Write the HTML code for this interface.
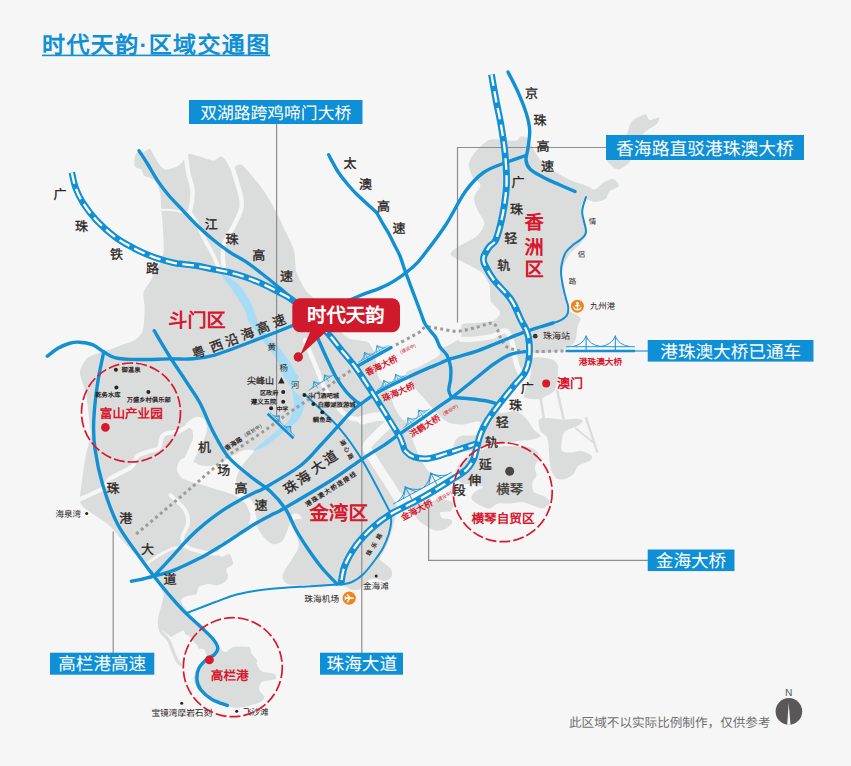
<!DOCTYPE html>
<html lang="zh-CN">
<head>
<meta charset="utf-8">
<title>时代天韵·区域交通图</title>
<style>
html,body{margin:0;padding:0;background:#f6f6f6;}
body{width:851px;height:766px;overflow:hidden;font-family:"Liberation Sans",sans-serif;}
svg{display:block;position:absolute;left:0;top:0;}
text{font-family:"Liberation Sans",sans-serif;text-rendering:geometricPrecision;}
.rd{fill:none;stroke:#1190d4;stroke-width:3.4;stroke-linecap:round;stroke-linejoin:round;}
.rd2{fill:none;stroke:#1190d4;stroke-width:2;stroke-linecap:round;stroke-linejoin:round;}
.rl{fill:none;stroke:#1190d4;stroke-width:7;stroke-linecap:butt;stroke-linejoin:round;}
.rw{fill:none;stroke:#fff;stroke-width:2.3;stroke-dasharray:11.5 5.5;stroke-linejoin:round;}
.dot{fill:none;stroke:#9b9b9b;stroke-width:3;stroke-dasharray:3 3.2;}
.ld{fill:none;stroke:#8e8e8e;stroke-width:1.2;}
.land{fill:#dbdcdc;}
.bg{fill:#f6f6f6;}
.riv{fill:#a6dcf6;}
.box{fill:#0f8fd6;}
.bt{fill:#fff;font-size:17.6px;}
.k{fill:#2a2422;font-size:13px;text-anchor:middle;stroke:#2a2422;stroke-width:0.32px;}
.s{fill:#2a2422;font-size:8.5px;}
.t{fill:#2a2422;font-size:7px;font-weight:bold;}
.r{fill:#d7182d;font-weight:bold;}
.circ{fill:none;stroke:#d7182d;stroke-width:1.7;stroke-dasharray:11 3;}
</style>
</head>
<body>
<svg width="851" height="766" viewBox="0 0 851 766">
<rect width="851" height="766" fill="#f6f6f6"/>
<g id="land">
<path class="land" d="M149.7 149.0C151.5 149.8 154.0 155.9 155.4 158.1C156.8 160.3 158.0 163.1 159.5 164.7C161.0 166.3 163.5 169.4 166.1 169.6C168.7 169.8 175.1 167.6 177.6 166.3C180.1 165.0 182.1 162.2 183.4 160.6C184.7 159.0 185.6 155.7 186.7 154.8C187.8 153.9 188.6 153.6 190.8 154.0C193.0 154.4 199.0 156.4 202.3 157.3C205.6 158.2 211.2 160.7 213.8 160.6C216.4 160.5 218.8 156.5 220.4 156.4C222.0 156.3 223.9 158.0 225.3 159.7C226.7 161.4 229.1 166.8 230.3 168.0C231.5 169.2 232.7 168.4 233.6 168.0C234.5 167.6 235.5 165.7 236.9 165.5C238.3 165.3 240.0 163.2 243.4 166.3C246.8 169.4 256.8 181.4 261.0 187.0C265.2 192.6 269.4 199.8 272.8 205.8C276.2 211.8 281.5 222.9 284.5 229.3C287.5 235.7 292.3 244.5 294.0 250.5C295.7 256.5 294.6 265.9 296.3 271.6C298.0 277.3 302.9 286.3 305.7 290.4C308.5 294.5 312.5 296.1 316.0 300.0C319.5 303.9 325.7 312.7 330.0 318.0C334.3 323.3 342.0 333.8 346.4 337.0C350.8 340.2 357.3 339.7 360.5 340.5C363.7 341.3 366.6 341.1 368.5 342.7C370.4 344.3 372.8 348.8 374.0 352.0C375.2 355.2 376.4 361.8 377.0 365.3C377.6 368.8 376.7 372.9 378.3 376.5C379.9 380.1 385.8 386.0 388.2 390.6C390.6 395.2 393.3 404.9 395.3 409.0C397.3 413.1 400.5 417.2 402.0 419.0C403.5 420.8 404.8 419.7 405.8 421.3C406.8 422.9 408.1 427.4 409.0 430.0C409.9 432.6 411.0 435.6 412.4 439.3C413.8 443.0 417.1 451.8 419.0 455.8C420.9 459.8 423.6 464.2 425.5 467.3C427.4 470.4 431.6 474.8 432.0 477.2C432.4 479.6 429.4 482.4 428.0 484.0C426.6 485.6 425.5 487.1 422.3 488.7C419.1 490.3 409.1 494.8 405.8 495.3C402.5 495.8 400.9 491.8 399.2 492.0C397.5 492.2 394.3 494.7 394.0 497.0C393.7 499.3 396.9 505.0 397.0 508.0C397.1 511.0 395.7 514.9 395.0 518.0C394.3 521.1 393.1 526.1 392.0 530.0C390.9 533.9 388.7 541.0 387.0 545.0C385.3 549.0 380.4 555.4 380.0 558.0C379.6 560.6 382.4 561.4 384.0 563.0C385.6 564.6 389.9 567.0 391.0 569.0C392.1 571.0 392.4 575.3 391.5 577.0C390.6 578.7 387.4 580.8 385.0 581.0C382.6 581.2 377.6 578.5 375.0 578.5C372.4 578.5 369.0 579.6 367.0 581.0C365.0 582.4 363.1 587.2 361.0 588.5C358.9 589.8 354.3 590.3 352.0 590.0C349.7 589.7 347.3 587.1 345.0 586.5C342.7 585.9 340.3 585.8 336.0 585.8C331.7 585.8 318.9 586.7 315.0 586.5C311.1 586.3 310.9 584.7 308.6 584.5C306.3 584.3 301.8 585.5 298.7 585.4C295.6 585.3 289.5 585.0 287.2 583.8C284.9 582.6 282.5 579.3 282.3 577.2C282.1 575.1 284.1 571.6 285.5 569.0C286.9 566.4 290.2 562.4 292.1 559.1C294.0 555.8 298.2 549.7 298.7 545.9C299.2 542.1 296.3 536.1 295.4 532.8C294.5 529.5 292.1 524.8 292.1 522.9C292.1 521.0 294.0 520.3 295.4 519.6C296.8 518.9 301.8 518.9 302.0 518.0C302.2 517.1 298.4 514.0 297.0 513.5C295.6 513.0 293.0 513.6 292.1 514.7C291.2 515.8 291.2 519.0 290.5 521.3C289.8 523.6 288.4 528.3 287.2 531.1C286.0 533.9 284.2 539.1 282.3 541.0C280.4 542.9 276.4 544.5 274.0 544.3C271.6 544.1 268.1 541.8 265.8 539.4C263.5 537.0 259.0 531.3 257.6 527.8C256.2 524.3 256.8 517.0 255.9 514.7C255.0 512.4 251.9 510.8 251.0 512.0C250.1 513.2 250.6 519.9 249.4 522.9C248.2 525.9 245.9 530.7 242.8 532.8C239.7 534.9 230.8 536.1 228.0 537.7C225.2 539.3 224.4 542.3 223.0 544.3C221.6 546.3 218.1 550.2 218.0 552.0C217.9 553.8 220.3 556.7 222.0 557.0C223.7 557.3 228.0 553.2 229.6 554.2C231.2 555.2 233.4 561.9 232.9 564.0C232.4 566.1 227.0 567.3 226.3 569.0C225.6 570.7 228.1 574.2 228.0 576.0C227.9 577.8 227.0 580.2 225.5 581.5C224.0 582.8 219.8 585.0 217.4 585.4C215.0 585.8 211.6 583.8 209.0 584.0C206.4 584.2 200.9 585.4 199.1 586.8C197.3 588.2 198.0 592.6 196.3 593.9C194.6 595.2 189.2 595.1 187.0 596.0C184.8 596.9 180.9 598.4 181.0 600.5C181.1 602.6 184.1 606.9 187.5 611.0C190.9 615.1 200.4 624.6 204.5 629.0C208.6 633.4 213.9 638.8 216.0 641.5C218.1 644.2 218.1 646.5 219.5 648.0C220.9 649.5 223.7 652.1 225.7 652.0C227.7 651.9 230.1 647.7 233.4 647.0C236.7 646.3 246.3 646.1 248.9 647.0C251.5 647.9 250.3 651.5 251.5 653.4C252.7 655.3 256.3 658.5 257.0 660.0C257.7 661.5 256.0 662.4 256.7 664.0C257.4 665.6 259.3 670.1 261.9 671.5C264.5 672.9 273.0 672.9 274.8 674.0C276.6 675.1 276.6 678.2 274.8 679.3C273.0 680.4 264.1 680.4 261.9 681.9C259.7 683.4 258.9 687.4 259.3 689.6C259.7 691.8 264.4 695.6 264.4 697.4C264.4 699.2 261.9 701.2 259.3 702.5C256.7 703.8 250.0 705.7 246.3 706.4C242.6 707.1 237.1 708.3 233.4 707.7C229.7 707.1 224.2 704.0 220.5 702.5C216.8 701.0 210.7 699.2 207.6 697.4C204.5 695.6 200.5 692.2 198.5 689.6C196.5 687.0 193.9 681.9 193.3 679.3C192.7 676.7 196.4 674.1 194.6 671.5C192.8 668.9 182.8 663.8 180.4 661.2C178.0 658.6 179.1 656.7 177.8 653.4C176.5 650.1 174.0 641.6 171.4 637.9C168.8 634.2 161.6 630.6 159.7 627.6C157.8 624.6 157.8 621.6 158.4 617.2C159.0 612.8 163.2 600.5 163.6 596.5C164.0 592.5 162.4 592.3 161.0 589.2C159.6 586.1 155.7 578.4 154.0 575.0C152.3 571.6 150.6 567.7 149.3 565.7C148.0 563.7 146.3 562.3 144.6 561.0C142.9 559.7 139.9 558.3 137.6 556.3C135.3 554.3 131.6 550.7 128.2 547.0C124.8 543.3 117.0 533.9 114.0 530.5C111.0 527.1 110.0 525.8 107.0 523.4C104.0 521.0 96.3 516.3 92.9 514.0C89.5 511.7 85.3 509.0 83.5 507.0C81.7 505.0 80.2 504.0 80.0 500.0C79.8 496.0 81.5 485.2 82.3 478.8C83.1 472.4 84.7 461.5 85.9 455.3C87.1 449.1 90.0 440.4 90.5 435.2C91.0 430.0 89.6 422.9 89.2 418.7C88.8 414.5 88.1 409.3 87.6 405.5C87.1 401.7 86.6 395.2 86.0 392.4C85.4 389.6 84.3 388.4 83.5 385.8C82.7 383.2 80.6 376.9 80.2 374.3C79.8 371.7 79.9 370.1 81.0 367.7C82.1 365.3 85.0 359.9 87.6 357.8C90.2 355.7 95.5 354.2 99.0 352.9C102.5 351.6 109.0 350.0 112.3 348.8C115.6 347.6 118.8 346.0 122.1 344.7C125.4 343.4 132.3 341.8 135.3 339.7C138.3 337.6 141.7 334.5 143.0 330.0C144.3 325.5 144.5 313.5 144.6 308.2C144.7 302.9 142.7 296.7 143.5 292.8C144.3 288.9 148.8 284.0 150.5 281.0C152.2 278.0 153.4 275.6 155.3 271.6C157.2 267.6 162.5 260.2 163.5 252.8C164.5 245.4 162.6 226.4 162.3 220.0C162.0 213.6 161.4 211.9 161.1 208.2C160.8 204.5 161.1 197.9 160.4 194.3C159.7 190.7 157.8 185.2 156.3 182.8C154.8 180.4 151.5 178.9 149.7 177.8C147.9 176.7 145.1 176.6 143.9 175.4C142.7 174.2 142.7 170.9 141.4 169.6C140.1 168.3 135.8 168.2 134.9 166.3C134.0 164.4 134.3 158.6 134.9 156.4C135.5 154.2 137.8 151.3 139.0 150.7C140.2 150.1 141.6 152.5 143.1 152.3C144.6 152.1 147.9 148.2 149.7 149.0Z"/>
<path class="land" d="M484.3 143.3C486.9 141.3 487.6 139.8 492.0 139.4C496.4 139.0 511.2 141.1 515.3 140.7C519.4 140.3 518.8 137.2 520.5 136.8C522.2 136.4 525.2 136.4 527.0 138.0C528.8 139.6 531.0 144.7 533.0 148.0C535.0 151.3 538.1 157.9 541.0 161.0C543.9 164.1 548.9 167.3 553.0 170.0C557.1 172.7 565.1 177.7 570.0 180.0C574.9 182.3 583.5 184.6 587.0 186.0C590.5 187.4 592.4 190.0 594.8 189.5C597.2 189.0 601.8 183.6 604.0 182.2C606.2 180.8 608.4 179.9 610.0 179.5C611.6 179.1 613.8 178.8 615.0 179.7C616.2 180.6 619.4 184.2 618.6 185.9C617.8 187.6 611.2 189.6 609.4 191.4C607.6 193.2 607.9 197.2 605.8 198.7C603.7 200.2 597.8 201.9 594.8 202.0C591.8 202.1 586.9 198.6 585.0 199.5C583.1 200.4 581.2 204.6 581.2 208.0C581.2 211.4 584.3 219.7 585.0 223.4C585.7 227.1 587.1 230.9 586.4 233.8C585.7 236.7 582.4 241.1 580.0 244.0C577.6 246.9 572.0 251.1 569.6 254.4C567.2 257.7 564.1 263.0 563.0 267.4C561.9 271.8 561.4 280.7 561.8 285.5C562.2 290.3 564.7 297.5 565.7 301.0C566.7 304.5 566.6 307.6 568.7 310.0C570.8 312.4 579.0 315.7 580.3 318.0C581.6 320.3 578.5 322.6 577.7 325.9C576.9 329.2 576.8 338.1 575.0 341.4C573.2 344.7 568.4 347.4 564.8 349.0C561.2 350.6 554.4 351.9 550.0 352.5C545.6 353.1 536.9 353.1 534.0 353.2C531.1 353.3 530.5 351.9 530.0 353.0C529.5 354.1 530.9 358.1 530.5 361.0C530.1 363.9 529.1 369.1 527.0 373.0C524.9 376.9 519.4 383.6 516.0 388.0C512.6 392.4 505.4 400.4 503.0 404.0C500.6 407.6 497.6 411.9 499.5 413.0C501.4 414.1 512.2 410.7 516.0 411.4C519.8 412.1 523.2 415.4 525.8 418.0C528.4 420.6 531.9 426.9 534.0 429.5C536.1 432.1 540.8 434.6 540.6 436.0C540.4 437.4 535.7 438.7 532.4 439.4C529.1 440.1 521.8 440.3 517.6 441.0C513.4 441.7 506.7 443.5 502.8 444.0C498.9 444.5 493.3 443.9 490.0 444.3C486.7 444.7 482.4 446.0 480.0 447.0C477.6 448.0 476.0 450.4 473.0 451.0C470.0 451.6 461.8 451.7 459.0 451.4C456.2 451.1 454.2 450.0 453.6 448.6C453.0 447.2 454.0 443.3 455.0 441.5C456.0 439.7 457.4 437.0 460.6 436.0C463.8 435.0 474.8 436.4 477.6 434.5C480.4 432.6 480.8 424.8 480.4 423.0C480.0 421.2 477.5 421.6 475.0 421.8C472.5 422.0 466.4 424.4 463.0 424.6C459.6 424.8 453.7 423.9 451.0 423.2C448.3 422.5 446.5 421.7 444.0 419.7C441.5 417.7 436.2 412.1 433.3 409.0C430.4 405.9 426.3 400.9 423.5 397.7C420.7 394.5 415.5 388.9 413.6 386.4C411.7 383.9 411.0 382.0 410.0 380.0C409.0 378.0 405.2 374.2 406.5 372.3C407.8 370.4 414.6 369.1 419.2 366.7C423.8 364.3 436.0 357.9 439.0 355.4C442.0 352.9 438.2 351.1 440.0 349.4C441.8 347.7 448.8 345.3 451.8 343.5C454.8 341.7 459.5 339.7 461.0 337.0C462.5 334.3 460.0 326.7 462.0 324.7C464.0 322.7 470.8 323.5 475.0 323.0C479.2 322.5 488.6 321.9 491.7 321.2C494.8 320.5 495.8 319.4 497.0 318.0C498.2 316.6 500.7 313.7 499.8 311.3C498.9 308.9 492.3 304.7 490.8 301.0C489.3 297.3 490.8 289.6 489.5 285.5C488.2 281.4 485.4 275.8 481.7 272.5C478.0 269.2 468.0 264.8 463.6 262.2C459.2 259.6 451.4 256.6 450.7 254.4C450.0 252.2 454.7 249.3 458.4 246.7C462.1 244.1 472.8 239.6 476.5 236.3C480.2 233.0 484.1 227.1 484.3 223.4C484.5 219.7 479.3 214.2 477.8 210.5C476.3 206.8 473.6 201.3 474.0 197.6C474.4 193.9 480.6 187.6 480.4 184.6C480.2 181.6 474.4 179.8 472.7 176.9C471.0 174.0 468.6 167.3 468.8 164.0C469.0 160.7 471.8 156.6 474.0 153.6C476.2 150.6 481.7 145.3 484.3 143.3Z"/>
<path class="land" d="M627.7 136.5C626.1 135.3 628.5 130.1 629.0 128.0C629.5 125.9 630.1 123.5 631.4 121.9C632.7 120.3 635.9 118.0 638.0 117.0C640.1 116.0 644.3 114.2 646.0 114.6C647.7 115.0 647.8 119.7 649.6 120.1C651.4 120.5 657.7 117.0 658.8 117.5C659.9 118.0 658.8 121.9 657.0 123.8C655.2 125.7 648.4 129.2 646.0 131.0C643.6 132.8 643.1 135.7 640.5 136.5C637.9 137.3 629.3 137.7 627.7 136.5Z"/>
<path class="land" d="M607.6 158.5C610.2 157.5 626.6 157.7 629.5 158.5C632.4 159.3 629.3 162.4 627.7 164.0C626.1 165.6 620.9 169.1 618.6 169.4C616.3 169.7 612.9 167.4 611.3 165.8C609.7 164.2 605.0 159.5 607.6 158.5Z"/>
<path class="land" d="M489.6 447.6C494.4 446.7 503.8 446.0 509.4 446.0C515.0 446.0 525.0 446.8 529.0 447.6C533.0 448.4 536.0 450.1 537.3 451.7C538.6 453.3 538.5 456.9 538.1 459.1C537.7 461.3 535.0 465.0 534.8 467.3C534.6 469.6 536.8 473.4 536.5 475.5C536.2 477.6 532.8 479.7 532.4 482.1C532.0 484.5 532.1 489.9 534.0 492.0C535.9 494.1 543.3 495.4 545.5 497.0C547.7 498.6 550.2 501.9 549.7 503.5C549.2 505.1 544.8 508.2 542.3 508.4C539.8 508.6 535.2 506.1 532.4 505.2C529.6 504.3 525.8 502.1 522.5 501.9C519.2 501.7 512.9 503.3 509.4 503.5C505.9 503.7 500.6 502.8 497.8 503.5C495.0 504.2 492.2 508.2 489.6 508.4C487.0 508.6 482.3 506.6 479.7 505.2C477.1 503.8 472.2 500.5 471.5 498.6C470.8 496.7 473.2 493.7 474.8 492.0C476.4 490.3 483.1 488.0 483.0 487.0C482.9 486.0 477.0 485.6 474.0 485.0C471.0 484.4 464.7 484.3 462.0 483.0C459.3 481.7 455.6 478.4 455.0 476.0C454.4 473.6 456.4 468.6 458.0 466.0C459.6 463.4 463.4 460.0 466.0 458.0C468.6 456.0 472.6 453.5 476.0 452.0C479.4 450.5 484.8 448.5 489.6 447.6Z"/>
<path class="land" d="M532.9 358.0C535.5 356.3 545.8 357.9 549.3 358.8C552.8 359.7 556.4 361.6 557.6 364.5C558.8 367.4 558.1 375.5 557.6 379.3C557.1 383.1 556.0 388.5 554.3 390.9C552.6 393.3 547.9 394.6 546.0 395.8C544.1 397.0 542.9 398.5 541.0 399.0C539.1 399.5 535.3 399.2 533.0 399.0C530.7 398.8 525.9 398.3 524.7 397.4C523.5 396.5 524.0 395.1 524.7 392.5C525.4 389.9 528.7 382.4 529.6 379.3C530.5 376.2 530.8 374.0 531.3 371.0C531.8 368.0 530.3 359.7 532.9 358.0Z"/>
<path class="land" d="M539.0 419.6C540.2 417.7 545.5 418.0 548.8 418.0C552.1 418.0 558.2 419.5 562.0 419.6C565.8 419.7 572.3 418.7 575.2 418.8C578.1 418.9 582.1 419.5 582.6 420.4C583.1 421.3 580.9 423.9 578.4 425.4C575.9 426.9 567.6 429.1 565.3 431.1C563.0 433.1 562.5 436.6 562.0 439.4C561.5 442.2 560.6 449.0 562.0 450.9C563.4 452.8 569.1 452.5 571.9 452.5C574.7 452.5 578.9 450.4 581.7 450.9C584.5 451.4 590.4 454.4 591.6 455.8C592.8 457.2 591.9 459.3 590.0 460.7C588.1 462.1 580.8 463.8 578.4 465.7C576.0 467.6 575.4 472.0 573.5 473.9C571.6 475.8 567.7 478.1 565.3 478.8C562.9 479.5 558.9 479.7 557.0 478.8C555.1 477.9 553.1 474.6 552.1 472.3C551.1 470.0 550.2 465.7 549.7 462.4C549.2 459.1 549.2 452.7 548.8 449.2C548.4 445.7 548.4 440.3 547.2 437.7C546.0 435.1 541.8 433.7 540.6 431.1C539.4 428.5 537.8 421.5 539.0 419.6Z"/>
<path d="M540.6 398L543.9 419M557 390L563.6 419" stroke="#dbdcdc" stroke-width="2.6" fill="none"/>
<path d="M585.8 417.1L597.4 452.5" stroke="#dbdcdc" stroke-width="2.4" fill="none"/><path d="M575.2 427.8L593.2 442.6" stroke="#dbdcdc" stroke-width="1.8" fill="none"/>
<path class="land" d="M413.8 503.9C416.0 502.7 424.4 503.0 428.0 502.4C431.6 501.8 435.6 499.6 439.2 499.6C442.8 499.6 451.7 500.8 453.3 502.4C454.9 504.0 452.3 509.5 450.5 510.9C448.7 512.3 441.8 511.3 440.6 512.3C439.4 513.3 440.6 517.0 442.0 518.0C443.4 519.0 449.1 518.6 450.5 519.4C451.9 520.2 452.8 522.2 452.0 523.6C451.2 525.0 447.1 528.2 444.9 529.2C442.7 530.2 438.6 530.8 436.4 530.6C434.2 530.4 431.4 528.8 429.4 527.8C427.4 526.8 424.1 525.0 422.3 523.6C420.5 522.2 418.1 519.8 416.7 518.0C415.3 516.2 412.8 512.9 412.4 510.9C412.0 508.9 411.6 505.1 413.8 503.9Z"/>
</g>
<g id="river">
<path d="M185.9 155.0C186.3 158.0 187.2 167.2 188.3 172.9C189.4 178.6 191.8 184.4 192.4 189.3C193.0 194.2 192.3 198.6 191.8 202.5C191.3 206.4 189.9 211.2 189.5 213.0" fill="none" stroke="#f6f6f6" stroke-width="4.4" stroke-linecap="round" stroke-linejoin="round"/>
<path d="M189.5 212.0C190.4 213.3 192.3 215.4 194.8 220.0C197.3 224.6 201.7 233.8 204.7 239.5C207.7 245.2 210.7 249.9 212.9 254.3C215.1 258.7 216.5 262.9 217.8 265.8C219.2 268.8 220.5 271.0 221.0 272.0" fill="none" stroke="#f6f6f6" stroke-width="3.8" stroke-linecap="round" stroke-linejoin="round"/>
<path d="M232.0 166.5C233.1 170.0 236.9 182.1 238.5 187.7C240.1 193.3 241.1 196.3 241.5 200.0C241.9 203.7 242.1 205.8 240.9 209.9C239.7 214.0 237.1 219.2 234.3 224.7C231.6 230.2 226.3 237.9 224.4 242.8C222.5 247.7 222.9 250.5 222.8 254.3C222.7 258.1 223.4 262.9 223.6 265.8C223.8 268.8 223.9 271.0 224.0 272.0" fill="none" stroke="#f6f6f6" stroke-width="4.4" stroke-linecap="round" stroke-linejoin="round"/>
<path d="M159.5 210.0C161.2 210.0 166.6 209.8 170.0 210.0C173.4 210.2 176.8 211.0 180.0 211.5C183.2 212.0 187.5 212.9 189.0 213.2" fill="none" stroke="#f6f6f6" stroke-width="1.8" stroke-linecap="round" stroke-linejoin="round"/>
<path class="riv" d="M221.0 273.0C221.3 272.7 224.9 274.6 227.0 276.0C229.1 277.4 237.3 282.5 240.0 285.7C242.7 288.9 249.6 300.5 251.6 304.5C253.6 308.5 256.2 318.5 258.0 322.0C259.8 325.5 265.7 333.2 268.0 336.0C270.3 338.8 276.8 344.3 279.0 347.0C281.2 349.7 286.4 357.7 288.0 360.0C289.6 362.3 292.2 366.6 293.0 368.0C293.8 369.4 294.6 371.4 295.2 372.4C295.8 373.4 298.9 375.0 298.8 377.0C298.7 379.0 293.7 387.8 294.0 390.0C294.3 392.2 299.9 395.3 301.1 397.0C302.3 398.7 304.9 402.8 304.6 405.3C304.3 407.8 300.5 416.9 298.8 419.4C297.1 421.9 291.6 425.8 289.4 427.6C287.2 429.4 281.3 433.8 278.8 435.8C276.3 437.8 269.7 443.5 267.0 445.2C264.3 446.9 255.3 450.8 254.1 451.1C252.9 451.4 254.8 449.2 256.5 447.6C258.2 446.0 266.7 439.2 269.4 437.0C272.1 434.8 279.0 429.3 281.1 427.6C283.2 425.9 287.0 423.1 288.2 421.7C289.4 420.3 291.1 416.5 291.7 414.7C292.3 412.9 293.9 407.5 294.0 405.3C294.1 403.1 293.3 396.8 292.9 394.7C292.5 392.6 291.5 388.6 290.5 386.5C289.5 384.4 285.0 378.8 283.5 375.9C282.0 373.0 278.9 363.4 277.0 360.0C275.1 356.6 268.4 348.3 266.0 345.0C263.6 341.7 257.0 332.8 255.0 330.0C253.0 327.2 249.2 322.3 248.0 320.0C246.8 317.7 246.3 312.5 244.6 309.2C242.9 305.9 235.1 293.8 232.8 290.4C230.5 287.0 225.3 280.9 224.0 279.0C222.7 277.1 220.7 273.3 221.0 273.0Z"/>
<path class="bg" d="M179.0 462.0C180.0 460.3 182.1 458.1 184.0 458.0C185.9 457.9 189.7 460.0 192.0 461.0C194.3 462.0 197.4 464.3 200.0 465.0C202.6 465.7 207.1 466.3 210.0 466.0C212.9 465.7 217.4 464.1 220.0 463.0C222.6 461.9 225.7 459.3 228.0 458.0C230.3 456.7 233.6 455.1 236.0 454.0C238.4 452.9 242.4 450.5 245.0 450.0C247.6 449.5 253.3 449.6 254.0 450.5C254.7 451.4 251.4 454.2 250.0 456.0C248.6 457.8 245.6 460.9 244.0 463.0C242.4 465.1 240.1 468.6 239.0 471.0C237.9 473.4 236.0 477.6 236.0 480.0C236.0 482.4 237.6 486.0 239.0 488.0C240.4 490.0 244.1 492.1 246.0 494.0C247.9 495.9 250.6 498.7 252.0 501.0C253.4 503.3 255.7 508.0 256.0 510.0C256.3 512.0 254.9 514.6 254.0 515.0C253.1 515.4 251.1 514.6 250.0 513.0C248.9 511.4 247.7 506.3 246.0 504.0C244.3 501.7 240.6 498.6 238.0 497.0C235.4 495.4 231.3 494.1 228.0 493.0C224.7 491.9 218.6 490.1 215.0 489.0C211.4 487.9 206.3 486.0 203.0 485.0C199.7 484.0 195.0 483.0 192.0 482.0C189.0 481.0 184.1 479.7 182.0 478.0C179.9 476.3 177.4 472.3 177.0 470.0C176.6 467.7 178.0 463.7 179.0 462.0Z"/>
<path d="M80.6 499.0C82.6 498.1 88.9 495.2 92.9 493.3C96.9 491.4 101.7 489.9 104.4 487.6C107.1 485.3 106.5 481.8 109.3 479.3C112.0 476.8 117.1 475.0 120.9 472.8C124.8 470.6 129.7 468.9 132.4 466.2C135.1 463.4 134.6 458.8 137.3 456.3C140.0 453.8 145.2 452.8 148.8 451.4C152.4 450.0 156.5 450.6 158.7 448.1C160.9 445.6 160.6 439.1 162.0 436.6C163.4 434.1 164.2 434.1 166.9 433.3C169.6 432.5 174.9 432.8 178.4 431.6C181.9 430.4 185.1 427.8 188.0 426.0C190.9 424.2 194.7 421.8 196.0 421.0" fill="none" stroke="#f6f6f6" stroke-width="4.2" stroke-linecap="round" stroke-linejoin="round"/>
<path class="bg" d="M186.0 424.0C186.6 422.1 193.4 417.7 196.0 417.0C198.6 416.3 202.4 417.4 204.0 419.0C205.6 420.6 207.0 425.0 207.0 428.0C207.0 431.0 205.3 436.6 204.0 440.0C202.7 443.4 199.7 448.6 198.0 452.0C196.3 455.4 193.7 461.1 192.0 464.0C190.3 466.9 187.4 471.1 186.0 472.0C184.6 472.9 182.3 471.7 182.0 470.0C181.7 468.3 183.0 463.1 184.0 460.0C185.0 456.9 187.7 451.1 189.0 448.0C190.3 444.9 192.6 440.6 193.0 438.0C193.4 435.4 193.0 432.0 192.0 430.0C191.0 428.0 185.4 425.9 186.0 424.0Z"/>
<path d="M170.5 495.2C172.8 497.6 181.7 504.6 184.6 509.3C187.5 514.0 188.4 518.7 188.0 523.4C187.6 528.1 182.4 533.6 182.2 537.5C182.0 541.4 183.9 544.6 187.0 547.0C190.1 549.4 196.8 550.5 201.0 551.6C205.2 552.7 209.0 553.2 212.0 553.5C215.0 553.8 217.8 553.5 219.0 553.5" fill="none" stroke="#f6f6f6" stroke-width="3.8" stroke-linecap="round" stroke-linejoin="round"/>
<path d="M184.4 546.5C182.5 546.8 176.6 547.4 173.0 548.5C169.4 549.6 165.8 551.6 163.0 553.0C160.2 554.4 159.1 555.3 156.5 557.0C153.9 558.7 149.0 562.0 147.5 563.0" fill="none" stroke="#f6f6f6" stroke-width="2.6" stroke-linecap="round" stroke-linejoin="round"/>
<path class="bg" d="M171.0 637.0C172.6 636.1 181.4 630.8 183.0 630.5C184.6 630.2 184.8 633.9 185.5 634.5C186.2 635.1 188.2 635.3 189.0 636.0C189.8 636.7 192.1 640.0 193.0 641.0C193.9 642.0 196.3 644.3 197.0 645.2C197.7 646.1 198.6 648.3 199.4 648.7C200.2 649.1 203.2 648.2 204.0 649.0C204.8 649.8 206.6 654.7 206.5 656.0C206.4 657.3 204.3 659.9 203.5 661.0C202.7 662.1 199.9 664.8 199.0 666.0C198.1 667.2 196.2 671.2 195.0 672.0C193.8 672.8 189.6 673.4 188.0 673.0C186.4 672.6 182.2 669.7 181.0 668.0C179.8 666.3 177.9 660.3 177.0 658.0C176.1 655.7 173.9 649.1 173.0 647.0C172.1 644.9 169.2 640.1 169.0 639.0C168.8 637.9 169.4 637.9 171.0 637.0Z"/>
<path d="M159.5 622.0C159.7 623.5 159.2 627.9 160.8 631.0C162.4 634.1 166.7 637.0 168.8 640.5C170.9 644.0 172.1 649.0 173.5 652.3C174.9 655.6 175.8 658.5 177.0 660.5C178.2 662.5 179.9 663.8 180.5 664.5" fill="none" stroke="#dbdcdc" stroke-width="3.2" stroke-linecap="round" stroke-linejoin="round"/>
<path d="M305.0 340.0C305.6 341.4 306.1 342.9 308.3 348.3C310.5 353.7 315.4 365.5 318.2 372.3C321.0 379.1 321.8 383.1 325.3 389.2C328.8 395.3 335.4 404.3 339.4 409.0C343.4 413.7 345.4 415.6 349.2 417.4C353.0 419.2 359.9 419.6 362.0 420.0" fill="none" stroke="#f6f6f6" stroke-width="4.5" stroke-linecap="round" stroke-linejoin="round"/>
<path d="M362.0 420.0C364.2 419.5 371.0 417.5 375.0 417.0C379.0 416.5 383.8 415.8 386.0 417.0C388.2 418.2 389.0 421.5 388.0 424.0C387.0 426.5 383.0 429.0 380.0 432.0C377.0 435.0 372.2 439.3 370.0 442.0C367.8 444.7 366.2 444.7 367.0 448.0C367.8 451.3 371.5 456.3 375.0 462.0C378.5 467.7 384.2 476.0 388.0 482.0C391.8 488.0 395.3 493.3 398.0 498.0C400.7 502.7 403.0 508.0 404.0 510.0" fill="none" stroke="#f6f6f6" stroke-width="9.0" stroke-linecap="round" stroke-linejoin="round"/>
<path d="M461.0 339.5C463.3 339.4 469.8 339.5 475.0 339.0C480.2 338.5 487.7 337.7 492.0 336.5C496.3 335.3 498.7 332.9 501.0 332.0C503.3 331.1 504.5 330.2 506.0 331.0C507.5 331.8 508.8 334.2 510.0 337.0C511.2 339.8 512.7 344.5 513.5 348.0C514.3 351.5 514.3 354.8 515.0 358.0C515.7 361.2 516.5 364.3 517.5 367.0C518.5 369.7 520.4 372.8 521.0 374.0" fill="none" stroke="#f6f6f6" stroke-width="5.2" stroke-linecap="round" stroke-linejoin="round"/>
</g>
<g id="leaders">
<path class="ld" d="M276.6 124V417"/>
<path class="ld" d="M606 147.5H457.5V322.5"/>
<path class="ld" d="M113.2 531.5V653"/>
<path class="ld" d="M361.8 404V653"/>
<path class="ld" d="M428.6 507.4V560.3H648"/>
</g>
<g id="dotted">
<path class="dot" d="M563.5 351.0C559.6 351.1 546.1 351.4 540.0 351.5C533.9 351.6 530.9 351.8 527.0 351.5C523.1 351.2 519.7 350.8 516.4 350.0C513.1 349.2 509.6 348.9 507.0 347.0C504.4 345.1 502.8 342.1 501.0 338.8C499.2 335.5 497.9 329.6 496.4 327.0C494.8 324.4 495.2 322.9 491.7 323.0C488.2 323.1 481.0 326.2 475.3 327.6C469.6 329.0 463.5 331.0 457.6 331.2C451.7 331.4 445.3 329.5 440.0 328.8C434.7 328.1 429.7 326.3 426.0 327.0C422.3 327.7 423.5 329.8 418.0 333.0C412.5 336.2 397.2 344.2 393.0 346.5"/>
<path class="dot" d="M355.5 367.3L323.9 389.2L291.4 411.1L265.5 430.0L229.3 454.7L180.0 497.4L135.0 535.0"/>
</g>
<g id="roads">
<path class="rd" d="M508.0 72.0C509.7 75.3 515.0 85.2 518.0 92.0C521.0 98.8 524.0 106.2 526.0 112.5C528.0 118.8 529.4 124.1 529.7 130.0C530.0 135.9 528.6 143.0 528.0 148.0C527.4 153.0 525.7 156.5 526.0 160.0C526.3 163.5 527.1 166.1 530.0 169.0C532.9 171.9 538.5 174.8 543.5 177.5C548.5 180.2 554.8 182.7 560.0 185.0C565.2 187.3 572.5 190.4 575.0 191.5"/>
<path class="rd" d="M47.3 356.2C49.1 354.9 54.4 350.4 58.0 348.3C61.6 346.2 65.5 344.5 69.0 343.5C72.5 342.5 75.4 342.0 79.3 342.2C83.2 342.4 88.4 343.1 92.5 344.7C96.6 346.3 100.2 349.8 104.0 352.0C107.8 354.2 110.0 356.6 115.5 357.8C121.0 359.1 127.8 359.3 136.9 359.5C146.0 359.7 161.2 359.0 170.0 358.9C178.8 358.8 182.9 359.5 190.0 359.0C197.1 358.5 202.4 358.5 212.5 355.7C222.6 352.9 237.2 347.0 250.5 342.0C263.8 337.0 279.6 330.9 292.0 325.7C304.4 320.5 314.0 315.9 325.0 311.0C336.0 306.1 347.5 300.9 358.0 296.5C368.5 292.1 378.8 289.4 388.0 284.5C397.2 279.6 406.7 272.4 413.0 267.0C419.3 261.6 420.5 259.1 426.0 252.0C431.5 244.9 439.5 234.5 446.0 224.5C452.5 214.5 458.8 200.7 465.0 192.0C471.2 183.3 476.7 177.4 483.5 172.5C490.3 167.6 498.9 165.3 506.0 162.5C513.1 159.7 522.7 156.7 526.0 155.5"/>
<path class="rd" d="M103.7 352.0C102.7 357.3 99.2 372.4 97.5 384.0C95.8 395.6 94.1 410.7 93.7 421.5C93.3 432.3 93.5 438.6 95.0 449.0C96.5 459.4 98.8 471.5 102.5 484.0C106.2 496.5 111.2 511.8 117.5 524.0C123.8 536.2 133.9 548.7 140.0 557.4C146.1 566.1 149.1 569.9 154.0 576.2C158.9 582.5 164.2 589.1 169.6 595.3C174.9 601.5 180.6 607.9 186.1 613.4C191.6 618.9 198.0 624.2 202.5 628.5C207.0 632.8 210.4 635.8 213.0 639.0C215.6 642.2 217.6 645.3 217.8 648.0C218.0 650.7 215.7 653.2 214.0 655.0C212.3 656.8 210.0 656.3 207.5 658.5C205.0 660.7 200.8 664.4 199.0 668.0C197.2 671.6 196.7 676.3 197.0 680.0C197.3 683.7 198.5 686.8 201.0 690.0C203.5 693.2 207.6 696.9 212.0 699.5C216.4 702.1 224.9 704.5 227.5 705.5"/>
<path class="rd" d="M154.2 330.7C156.8 335.1 164.4 348.2 170.0 357.0C175.6 365.8 182.5 375.8 187.5 383.5C192.5 391.2 195.8 395.0 200.0 403.0C204.2 411.0 208.3 422.6 213.0 431.5C217.7 440.4 221.8 449.0 228.0 456.5C234.2 464.0 243.4 470.7 250.5 476.5C257.6 482.3 264.7 486.1 270.5 491.5C276.3 496.9 281.3 502.8 285.5 509.0C289.7 515.2 291.8 522.3 295.5 529.0C299.2 535.7 303.6 542.5 308.0 549.0C312.4 555.5 317.2 562.2 322.0 568.0C326.8 573.8 334.5 581.3 337.0 584.0"/>
<path class="rd" d="M139.0 150.7C140.3 152.8 143.8 157.9 147.0 163.0C150.2 168.1 154.4 175.8 157.9 181.1C161.4 186.3 164.3 190.1 168.0 194.5C171.7 198.9 175.3 202.4 180.0 207.4C184.7 212.4 190.9 219.3 196.4 224.7C201.9 230.0 207.4 235.0 212.9 239.5C218.4 244.0 223.8 248.1 229.3 251.8C234.8 255.5 240.3 258.0 245.8 261.7C251.3 265.4 256.8 269.8 262.3 274.0C267.8 278.2 273.8 283.1 278.7 287.2C283.6 291.3 288.3 295.2 291.9 298.7C295.4 302.2 297.0 304.1 300.0 308.0C303.0 311.9 307.1 317.0 310.0 322.0C312.9 327.0 314.7 331.8 317.5 337.8C320.3 343.8 323.5 351.5 326.7 358.2C329.9 364.9 333.2 372.4 336.5 378.0C339.8 383.6 343.1 388.1 346.4 392.0C349.7 395.9 353.9 399.5 356.3 401.5C358.7 403.5 360.2 403.4 361.0 403.8"/>
<path class="rd" d="M328.6 154.8C330.2 157.7 335.1 167.2 338.2 172.0C341.3 176.8 343.9 179.8 347.0 183.5C350.1 187.2 352.1 189.7 357.0 194.5C361.9 199.3 373.4 209.6 376.7 212.6"/>
<path class="rd" d="M376.7 212.6C377.7 214.3 380.4 219.4 382.5 223.0C384.6 226.6 387.0 230.3 389.0 234.0C391.0 237.7 392.6 241.2 394.5 245.0C396.4 248.8 398.4 252.0 400.2 256.5C402.0 261.0 402.1 262.8 405.5 272.0C408.9 281.2 417.2 303.2 420.5 312.0C423.8 320.8 423.0 320.3 425.5 324.5C428.0 328.7 433.0 333.2 435.4 337.0C437.8 340.8 438.1 343.9 440.0 347.0C441.9 350.1 445.2 352.0 447.0 355.3C448.8 358.6 450.0 363.1 450.6 367.0C451.2 370.9 450.9 374.9 450.6 378.8C450.3 382.7 448.6 387.4 448.8 390.5C449.0 393.6 451.3 396.4 451.8 397.6"/>
<path class="rd" d="M154.0 576.2C157.2 572.8 167.0 562.2 172.9 555.8C178.8 549.4 183.8 543.2 189.3 537.7C194.8 532.2 200.3 527.4 205.8 522.9C211.3 518.4 216.8 514.3 222.3 510.6C227.8 506.9 233.2 503.8 238.7 500.7C244.2 497.6 251.0 494.4 255.2 492.3C259.4 490.2 256.5 492.6 264.0 488.2C271.5 483.8 290.5 473.2 300.0 466.0C309.5 458.8 313.9 452.2 321.0 444.8C328.1 437.4 337.0 427.3 342.3 421.5C347.6 415.7 349.8 413.0 353.0 410.0C356.2 407.0 357.1 406.6 361.3 403.6C365.5 400.6 370.5 396.4 378.3 392.0C386.1 387.6 399.9 381.1 408.0 377.2C416.1 373.3 421.8 370.8 427.0 368.6C432.2 366.4 435.1 365.4 439.0 363.8C442.9 362.2 444.2 360.9 450.3 358.9C456.4 356.9 467.2 354.5 475.3 351.7C483.4 348.9 491.0 345.4 498.8 342.3C506.6 339.2 515.4 335.4 522.3 332.9C529.2 330.3 534.9 328.6 540.0 327.0C545.1 325.4 550.8 323.7 553.0 323.0"/>
<path class="rd" d="M131.4 581.2C132.8 581.0 136.2 580.5 140.0 579.7C143.8 578.9 148.5 577.7 154.0 576.2C159.5 574.7 167.0 572.8 172.9 570.6C178.8 568.4 183.8 565.8 189.3 563.2C194.8 560.6 200.3 558.0 205.8 555.0C211.3 552.0 216.8 548.5 222.3 545.1C227.8 541.7 233.2 538.0 238.7 534.4C244.2 530.8 249.7 527.0 255.2 523.7C260.7 520.4 267.0 517.2 271.6 514.7C276.2 512.2 273.0 514.8 283.0 509.0C293.0 503.2 318.6 488.2 331.7 480.0C344.8 471.8 352.5 465.5 361.3 459.6C370.1 453.7 378.2 449.0 384.6 444.8C391.0 440.6 392.3 439.1 399.4 434.2C406.5 429.3 420.2 419.9 427.0 415.2C433.8 410.5 435.9 408.7 440.0 405.8C444.1 402.9 445.9 402.1 451.8 397.6C457.7 393.1 468.5 384.3 475.3 378.8C482.1 373.3 487.8 368.4 492.9 364.7C498.0 361.0 501.9 358.4 505.8 356.4C509.7 354.4 512.9 353.7 516.4 352.9C519.9 352.1 525.2 351.7 527.0 351.5"/>
<path class="rd" d="M451.8 397.6C454.7 397.8 463.5 398.1 469.4 398.7C475.3 399.3 482.3 400.1 487.0 401.0C491.7 401.9 495.8 403.5 497.6 404.0"/>
<path class="rd" d="M358.5 365.5C363.9 362.5 385.6 350.6 391.0 347.6"/>
<path class="rd2" d="M586.0 197.0C585.4 199.5 582.2 206.2 582.2 212.0C582.2 217.8 586.4 227.3 586.0 232.0C585.6 236.7 582.1 237.9 580.0 240.0C577.9 242.1 575.8 242.5 573.5 244.5C571.2 246.5 567.9 249.1 566.0 252.0C564.1 254.9 563.0 258.7 562.2 262.0C561.4 265.3 561.0 268.7 561.0 272.0C561.0 275.3 561.7 278.8 562.2 282.0C562.7 285.2 563.3 288.1 564.0 291.0C564.7 293.9 565.5 296.6 566.2 299.4C566.9 302.2 568.2 304.9 568.3 307.6C568.4 310.3 568.1 313.4 566.8 315.5C565.5 317.6 563.0 319.0 560.5 320.3C558.0 321.6 553.4 322.8 552.0 323.3"/>
<path class="rd2" d="M305.8 395.3C311.5 400.9 330.4 417.8 339.9 428.8C349.4 439.8 354.5 447.3 363.0 461.5C371.5 475.7 386.3 505.2 391.0 514.0"/>
<path class="rd2" d="M187.1 612.9C191.7 611.1 206.9 605.2 214.6 602.3C222.3 599.4 227.5 597.3 233.4 595.5C239.3 593.7 244.7 592.7 250.0 591.7C255.3 590.7 259.2 590.2 265.0 589.6C270.8 589.0 277.3 588.4 285.0 587.8C292.7 587.2 303.5 586.7 311.0 586.2C318.5 585.7 325.0 585.3 330.0 585.0C335.0 584.7 339.2 584.6 341.0 584.5"/>
<path class="rd2" d="M391.0 514.5C391.0 516.1 391.4 520.6 391.0 524.0C390.6 527.4 389.8 531.0 388.5 535.0C387.2 539.0 385.2 543.8 383.0 548.0C380.8 552.2 378.2 555.7 375.0 560.0C371.8 564.3 367.3 570.3 363.5 574.0C359.7 577.7 355.8 580.2 352.0 582.0C348.2 583.8 342.8 584.1 341.0 584.5"/>
<path d="M267.6 413.7L293.5 438.2" stroke="#1190d4" stroke-width="2.6" fill="none"/>
</g>
<g id="rail">
<path class="rl" style="stroke-width:6.5" d="M71.8 172.5C71.9 172.9 71.6 172.1 72.3 174.7C73.0 177.3 73.9 183.4 75.7 188.2C77.5 192.9 79.8 197.9 83.2 203.2C86.7 208.5 91.1 214.5 96.4 220.2C101.7 225.8 108.9 232.4 115.2 237.1C121.5 241.8 127.7 245.0 134.0 248.3C140.3 251.6 146.5 254.5 152.8 256.8C159.1 259.1 167.1 261.2 171.6 262.4C176.1 263.6 175.9 263.2 180.0 263.8C184.1 264.4 190.9 264.9 196.4 265.8C201.9 266.7 207.4 268.0 212.9 269.1C218.4 270.2 223.8 271.0 229.3 272.4C234.8 273.8 240.3 275.4 245.8 277.3C251.3 279.2 256.8 281.4 262.3 283.9C267.8 286.4 273.5 289.3 278.7 292.1C283.9 294.9 287.9 296.5 293.5 300.8C299.1 305.1 306.3 312.6 312.0 318.0C317.7 323.4 322.4 327.5 327.5 333.0C332.6 338.5 337.6 345.4 342.3 351.2C347.1 357.0 350.8 360.8 356.0 368.0C361.2 375.2 367.3 384.9 373.5 394.5C379.7 404.1 388.6 418.7 393.0 425.8C397.4 432.9 398.4 434.2 400.0 437.3C401.6 440.4 401.9 442.0 402.8 444.4C403.7 446.8 403.7 449.3 405.6 451.4C407.5 453.5 410.3 455.9 414.1 457.1C417.9 458.3 422.8 459.1 428.2 458.5C433.6 457.9 440.6 455.3 446.5 453.5C452.4 451.7 458.4 449.5 463.5 447.9C468.6 446.3 474.7 444.4 476.9 443.7"/>
<path class="rw" d="M71.8 172.5C71.9 172.9 71.6 172.1 72.3 174.7C73.0 177.3 73.9 183.4 75.7 188.2C77.5 192.9 79.8 197.9 83.2 203.2C86.7 208.5 91.1 214.5 96.4 220.2C101.7 225.8 108.9 232.4 115.2 237.1C121.5 241.8 127.7 245.0 134.0 248.3C140.3 251.6 146.5 254.5 152.8 256.8C159.1 259.1 167.1 261.2 171.6 262.4C176.1 263.6 175.9 263.2 180.0 263.8C184.1 264.4 190.9 264.9 196.4 265.8C201.9 266.7 207.4 268.0 212.9 269.1C218.4 270.2 223.8 271.0 229.3 272.4C234.8 273.8 240.3 275.4 245.8 277.3C251.3 279.2 256.8 281.4 262.3 283.9C267.8 286.4 273.5 289.3 278.7 292.1C283.9 294.9 287.9 296.5 293.5 300.8C299.1 305.1 306.3 312.6 312.0 318.0C317.7 323.4 322.4 327.5 327.5 333.0C332.6 338.5 337.6 345.4 342.3 351.2C347.1 357.0 350.8 360.8 356.0 368.0C361.2 375.2 367.3 384.9 373.5 394.5C379.7 404.1 388.6 418.7 393.0 425.8C397.4 432.9 398.4 434.2 400.0 437.3C401.6 440.4 401.9 442.0 402.8 444.4C403.7 446.8 403.7 449.3 405.6 451.4C407.5 453.5 410.3 455.9 414.1 457.1C417.9 458.3 422.8 459.1 428.2 458.5C433.6 457.9 440.6 455.3 446.5 453.5C452.4 451.7 458.4 449.5 463.5 447.9C468.6 446.3 474.7 444.4 476.9 443.7"/>
<path class="rl" style="stroke-width:6.8" d="M491.5 74.5C492.2 78.8 494.4 91.6 496.0 100.0C497.6 108.4 499.6 116.7 501.0 125.0C502.4 133.3 503.8 141.7 504.7 150.0C505.6 158.3 506.3 168.0 506.5 175.0C506.7 182.0 506.7 185.0 506.0 192.0C505.3 199.0 503.9 209.1 502.2 217.0C500.5 224.9 498.0 234.7 496.0 239.5C494.0 244.3 491.7 243.9 490.0 246.0C488.3 248.1 487.1 250.0 486.0 252.0C484.9 254.0 483.7 255.9 483.5 258.0C483.3 260.1 483.0 260.9 484.7 264.5C486.4 268.1 489.1 273.7 493.5 279.5C497.9 285.3 506.4 292.8 511.0 299.5C515.6 306.2 518.3 314.6 521.0 320.0C523.7 325.4 525.6 327.9 527.0 331.8C528.4 335.7 529.0 338.6 529.3 343.5C529.6 348.4 529.5 356.1 528.7 361.0C527.9 365.9 527.2 368.6 524.6 372.9C522.0 377.2 517.2 381.7 512.9 387.0C508.6 392.3 503.1 399.0 498.8 404.6C494.6 410.2 490.5 415.4 487.4 420.4C484.3 425.4 482.1 430.0 480.4 434.5C478.6 439.0 478.1 443.0 476.9 447.2C475.7 451.4 475.1 456.1 473.3 459.9C471.5 463.7 469.6 466.7 466.3 469.8C463.0 472.9 458.7 475.1 453.6 478.4C448.6 481.7 442.4 485.6 436.0 489.5C429.6 493.4 422.6 497.5 415.0 501.6C407.4 505.7 397.6 509.8 390.5 514.2C383.4 518.6 377.8 522.8 372.2 527.9C366.6 533.0 361.2 538.5 356.6 544.8C352.0 551.1 347.4 559.1 344.8 565.7C342.2 572.3 341.5 581.4 340.9 584.5"/>
<path class="rw" d="M491.5 74.5C492.2 78.8 494.4 91.6 496.0 100.0C497.6 108.4 499.6 116.7 501.0 125.0C502.4 133.3 503.8 141.7 504.7 150.0C505.6 158.3 506.3 168.0 506.5 175.0C506.7 182.0 506.7 185.0 506.0 192.0C505.3 199.0 503.9 209.1 502.2 217.0C500.5 224.9 498.0 234.7 496.0 239.5C494.0 244.3 491.7 243.9 490.0 246.0C488.3 248.1 487.1 250.0 486.0 252.0C484.9 254.0 483.7 255.9 483.5 258.0C483.3 260.1 483.0 260.9 484.7 264.5C486.4 268.1 489.1 273.7 493.5 279.5C497.9 285.3 506.4 292.8 511.0 299.5C515.6 306.2 518.3 314.6 521.0 320.0C523.7 325.4 525.6 327.9 527.0 331.8C528.4 335.7 529.0 338.6 529.3 343.5C529.6 348.4 529.5 356.1 528.7 361.0C527.9 365.9 527.2 368.6 524.6 372.9C522.0 377.2 517.2 381.7 512.9 387.0C508.6 392.3 503.1 399.0 498.8 404.6C494.6 410.2 490.5 415.4 487.4 420.4C484.3 425.4 482.1 430.0 480.4 434.5C478.6 439.0 478.1 443.0 476.9 447.2C475.7 451.4 475.1 456.1 473.3 459.9C471.5 463.7 469.6 466.7 466.3 469.8C463.0 472.9 458.7 475.1 453.6 478.4C448.6 481.7 442.4 485.6 436.0 489.5C429.6 493.4 422.6 497.5 415.0 501.6C407.4 505.7 397.6 509.8 390.5 514.2C383.4 518.6 377.8 522.8 372.2 527.9C366.6 533.0 361.2 538.5 356.6 544.8C352.0 551.1 347.4 559.1 344.8 565.7C342.2 572.3 341.5 581.4 340.9 584.5"/>
</g>
<g id="bridges">
<g transform="translate(374.8 356.5) rotate(-28.8)" fill="none" stroke="#1190d4" stroke-width="0.55" stroke-linecap="round"><path d="M-17.0 -3.0H17.0"/><path d="M-7.1 0V-8.5"/><path d="M-13.6 -3.0Q-9.4 -4.4 -7.1 -8.5Q-4.9 -4.4 -0.6 -3.0"/><path d="M-10.7 -3.0L-7.1 -8.0L-3.6 -3.0"/><path d="M7.1 0V-8.5"/><path d="M0.6 -3.0Q4.9 -4.4 7.1 -8.5Q9.4 -4.4 13.6 -3.0"/><path d="M3.6 -3.0L7.1 -8.0L10.7 -3.0"/></g>
<g transform="translate(393.2 384.6) rotate(-26.5)" fill="none" stroke="#1190d4" stroke-width="0.55" stroke-linecap="round"><path d="M-16.0 -2.6H16.0"/><path d="M-6.7 0V-8.1"/><path d="M-13.2 -2.6Q-9.0 -4.0 -6.7 -8.1Q-4.4 -4.0 -0.2 -2.6"/><path d="M-10.3 -2.6L-6.7 -7.6L-3.1 -2.6"/><path d="M6.7 0V-8.1"/><path d="M0.2 -2.6Q4.4 -4.0 6.7 -8.1Q9.0 -4.0 13.2 -2.6"/><path d="M3.1 -2.6L6.7 -7.6L10.3 -2.6"/></g>
<g transform="translate(418.5 421.3) rotate(-36.0)" fill="none" stroke="#1190d4" stroke-width="0.55" stroke-linecap="round"><path d="M-16.0 -3.6H16.0"/><path d="M-6.7 0V-9.1"/><path d="M-13.2 -3.6Q-9.0 -5.0 -6.7 -9.1Q-4.4 -5.0 -0.2 -3.6"/><path d="M-10.3 -3.6L-6.7 -8.6L-3.1 -3.6"/><path d="M6.7 0V-9.1"/><path d="M0.2 -3.6Q4.4 -5.0 6.7 -9.1Q9.0 -5.0 13.2 -3.6"/><path d="M3.1 -3.6L6.7 -8.6L10.3 -3.6"/></g>
<g transform="translate(323.0 384.5) rotate(-32.0)" fill="none" stroke="#1190d4" stroke-width="0.55" stroke-linecap="round"><path d="M-15.0 -2.6H15.0"/><path d="M-6.3 0V-7.4"/><path d="M-11.8 -2.6Q-8.2 -3.8 -6.3 -7.4Q-4.4 -3.8 -0.8 -2.6"/><path d="M-9.3 -2.6L-6.3 -6.9L-3.3 -2.6"/><path d="M6.3 0V-7.4"/><path d="M0.8 -2.6Q4.4 -3.8 6.3 -7.4Q8.2 -3.8 11.8 -2.6"/><path d="M3.3 -2.6L6.3 -6.9L9.3 -2.6"/></g>
<g transform="translate(424.6 492.2) rotate(-28.5)" fill="none" stroke="#1190d4" stroke-width="0.80" stroke-linecap="round"><path d="M-33.0 -4.6H33.0"/><path d="M-14.5 0V-14.1"/><path d="M-27.5 -4.6Q-19.1 -7.0 -14.5 -14.1Q-9.9 -7.0 -1.5 -4.6"/><path d="M-21.6 -4.6L-14.5 -13.2L-7.3 -4.6"/><path d="M14.5 0V-14.1"/><path d="M1.5 -4.6Q9.9 -7.0 14.5 -14.1Q19.1 -7.0 27.5 -4.6"/><path d="M7.3 -4.6L14.5 -13.2L21.6 -4.6"/></g>
<g transform="translate(280.5 426.0) rotate(43.4)" fill="none" stroke="#1190d4" stroke-width="0.55" stroke-linecap="round"><path d="M-17.0 -2.6H17.0"/><path d="M-7.8 0V-6.8"/><path d="M-12.8 -2.6Q-9.6 -3.7 -7.8 -6.8Q-6.0 -3.7 -2.8 -2.6"/><path d="M-10.6 -2.6L-7.8 -6.4L-5.0 -2.6"/><path d="M7.8 0V-6.8"/><path d="M2.8 -2.6Q6.0 -3.7 7.8 -6.8Q9.6 -3.7 12.8 -2.6"/><path d="M5.0 -2.6L7.8 -6.4L10.6 -2.6"/></g>
<g fill="none" stroke="#1190d4"><path d="M565.5 351H635" stroke-width="2.7"/><path d="M635 351H648" stroke-width="1.1"/><path d="M566.2 346.7H634.9" stroke-width="0.9"/><path d="M586.1 335.4V350M615.3 335.4V350" stroke-width="1"/><path d="M572.6 346.5Q582.5 345 586.1 336.2Q589.7 345 600.7 346.5Q611.7 345 615.3 336.2Q618.9 345 629.5 346.5" stroke-width="0.9"/></g>
</g>
<g id="boxes">
<rect class="box" x="189" y="100" width="173.5" height="24"/>
<text class="bt" x="275.7" y="119" text-anchor="middle" style="font-size:16.8px">双湖路跨鸡啼门大桥</text>
<rect class="box" x="606" y="135" width="198" height="25"/>
<text class="bt" x="705" y="154.8" text-anchor="middle" style="font-size:17.8px">香海路直驳港珠澳大桥</text>
<rect class="box" x="647.7" y="340" width="165.8" height="21.6"/>
<text class="bt" x="730.7" y="357.6" text-anchor="middle">港珠澳大桥已通车</text>
<rect class="box" x="647.7" y="549.5" width="86.8" height="21.6"/>
<text class="bt" x="691" y="567" text-anchor="middle">金海大桥</text>
<rect class="box" x="50" y="652.7" width="104.3" height="22"/>
<text class="bt" x="102.2" y="670.4" text-anchor="middle">高栏港高速</text>
<rect class="box" x="320" y="652.7" width="83" height="22"/>
<text class="bt" x="361.8" y="670.4" text-anchor="middle">珠海大道</text>
</g>
<text x="42" y="53" style="font-size:23px;font-weight:bold;fill:#1190d4;letter-spacing:1.4px">时代天韵·区域交通图</text>
<rect x="42" y="54.6" width="228" height="1.6" fill="#1190d4"/>
<g id="labels">
<text class="k" x="60.0" y="198.7" text-anchor="middle" style="font-size:13.0px;">广</text>
<text class="k" x="81.5" y="230.7" text-anchor="middle" style="font-size:13.0px;">珠</text>
<text class="k" x="116.5" y="258.7" text-anchor="middle" style="font-size:13.0px;">铁</text>
<text class="k" x="152.5" y="273.2" text-anchor="middle" style="font-size:13.0px;">路</text>
<text class="k" x="211.2" y="228.6" text-anchor="middle" style="font-size:13.0px;">江</text>
<text class="k" x="232.1" y="244.1" text-anchor="middle" style="font-size:13.0px;">珠</text>
<text class="k" x="258.7" y="259.9" text-anchor="middle" style="font-size:13.0px;">高</text>
<text class="k" x="286.4" y="281.0" text-anchor="middle" style="font-size:13.0px;">速</text>
<text class="k" x="350.0" y="168.2" text-anchor="middle" style="font-size:13.0px;">太</text>
<text class="k" x="365.5" y="188.7" text-anchor="middle" style="font-size:13.0px;">澳</text>
<text class="k" x="383.5" y="210.7" text-anchor="middle" style="font-size:13.0px;">高</text>
<text class="k" x="399.0" y="233.2" text-anchor="middle" style="font-size:13.0px;">速</text>
<text class="k" x="531.5" y="98.2" text-anchor="middle" style="font-size:13.0px;">京</text>
<text class="k" x="540.0" y="125.2" text-anchor="middle" style="font-size:13.0px;">珠</text>
<text class="k" x="543.0" y="151.2" text-anchor="middle" style="font-size:13.0px;">高</text>
<text class="k" x="547.5" y="171.2" text-anchor="middle" style="font-size:13.0px;">速</text>
<text class="k" x="517.9" y="186.7" text-anchor="middle" style="font-size:13.0px;">广</text>
<text class="k" x="516.6" y="213.9" text-anchor="middle" style="font-size:13.0px;">珠</text>
<text class="k" x="510.7" y="243.1" text-anchor="middle" style="font-size:13.0px;">轻</text>
<text class="k" x="503.7" y="269.5" text-anchor="middle" style="font-size:13.0px;">轨</text>
<text class="k" x="112.9" y="493.3" text-anchor="middle" style="font-size:13.0px;">珠</text>
<text class="k" x="125.8" y="523.4" text-anchor="middle" style="font-size:13.0px;">港</text>
<text class="k" x="147.4" y="553.5" text-anchor="middle" style="font-size:13.0px;">大</text>
<text class="k" x="170.0" y="584.0" text-anchor="middle" style="font-size:13.0px;">道</text>
<text class="k" x="204.5" y="452.2" text-anchor="middle" style="font-size:13.0px;">机</text>
<text class="k" x="223.8" y="474.7" text-anchor="middle" style="font-size:13.0px;">场</text>
<text class="k" x="241.0" y="492.9" text-anchor="middle" style="font-size:13.0px;">高</text>
<text class="k" x="261.0" y="510.2" text-anchor="middle" style="font-size:13.0px;">速</text>
<text class="k" x="527.2" y="393.2" text-anchor="middle" style="font-size:13.0px;">广</text>
<text class="k" x="515.5" y="409.9" text-anchor="middle" style="font-size:13.0px;">珠</text>
<text class="k" x="502.2" y="426.9" text-anchor="middle" style="font-size:13.0px;">轻</text>
<text class="k" x="491.5" y="447.4" text-anchor="middle" style="font-size:13.0px;">轨</text>
<text class="k" x="485.2" y="469.2" text-anchor="middle" style="font-size:13.0px;">延</text>
<text class="k" x="474.7" y="484.9" text-anchor="middle" style="font-size:13.0px;">伸</text>
<text class="k" x="459.2" y="494.9" text-anchor="middle" style="font-size:13.0px;">段</text>
<text class="k" x="198.7" y="357.1" text-anchor="middle" style="font-size:13.0px;" transform="rotate(-21.0 198.7 352.4)">粤</text>
<text class="k" x="216.5" y="350.5" text-anchor="middle" style="font-size:13.0px;" transform="rotate(-21.0 216.5 345.8)">西</text>
<text class="k" x="232.0" y="344.7" text-anchor="middle" style="font-size:13.0px;" transform="rotate(-21.0 232.0 340.0)">沿</text>
<text class="k" x="247.5" y="338.5" text-anchor="middle" style="font-size:13.0px;" transform="rotate(-21.0 247.5 333.8)">海</text>
<text class="k" x="263.0" y="332.3" text-anchor="middle" style="font-size:13.0px;" transform="rotate(-21.0 263.0 327.6)">高</text>
<text class="k" x="279.2" y="325.4" text-anchor="middle" style="font-size:13.0px;" transform="rotate(-21.0 279.2 320.7)">速</text>
<text class="k" x="290.5" y="491.9" text-anchor="middle" style="font-size:13.5px;" transform="rotate(-34.0 290.5 487.0)">珠</text>
<text class="k" x="303.4" y="482.5" text-anchor="middle" style="font-size:13.5px;" transform="rotate(-34.0 303.4 477.6)">海</text>
<text class="k" x="317.5" y="471.9" text-anchor="middle" style="font-size:13.5px;" transform="rotate(-34.0 317.5 467.0)">大</text>
<text class="k" x="330.4" y="462.5" text-anchor="middle" style="font-size:13.5px;" transform="rotate(-34.0 330.4 457.6)">道</text>
<text class="r" x="197.0" y="327.3" text-anchor="middle" style="font-size:19.2px;">斗门区</text>
<text class="r" x="338.6" y="519.7" text-anchor="middle" style="font-size:19.6px;">金湾区</text>
<text class="r" x="534.2" y="229.0" text-anchor="middle" style="font-size:19.2px;">香</text>
<text class="r" x="534.2" y="253.6" text-anchor="middle" style="font-size:19.2px;">洲</text>
<text class="r" x="534.2" y="276.3" text-anchor="middle" style="font-size:19.2px;">区</text>
<text class="r" x="131.3" y="417.8" text-anchor="middle" style="font-size:12.6px;">富山产业园</text>
<text class="r" x="229.7" y="679.7" text-anchor="middle" style="font-size:12.6px;">高栏港</text>
<text class="r" x="503.0" y="523.0" text-anchor="middle" style="font-size:12.6px;">横琴自贸区</text>
<text class="r" x="570.0" y="388.2" text-anchor="middle" style="font-size:13.0px;">澳门</text>
<text class="" x="509.7" y="493.8" text-anchor="middle" style="font-size:13.4px;fill:#3b3735;stroke:#3b3735;stroke-width:0.25px;">横琴</text>
<text class="s" x="68.2" y="516.6" text-anchor="middle" style="font-size:8.5px;">海泉湾</text>
<text class="s" x="181.8" y="715.7" text-anchor="middle" style="font-size:8.7px;">宝镜湾摩岩石刻</text>
<text class="s" x="255.8" y="714.6" text-anchor="middle" style="font-size:8.5px;">飞沙滩</text>
<text class="s" x="321.7" y="601.6" text-anchor="middle" style="font-size:8.7px;">珠海机场</text>
<text class="s" x="375.9" y="588.8" text-anchor="middle" style="font-size:8.6px;">金海滩</text>
<text class="s" x="556.5" y="338.9" text-anchor="middle" style="font-size:9.0px;">珠海站</text>
<text class="s" x="602.5" y="309.2" text-anchor="middle" style="font-size:8.4px;">九州港</text>
<text class="s" x="592.4" y="224.3" text-anchor="middle" style="font-size:7.5px;">情</text>
<text class="s" x="581.5" y="257.1" text-anchor="middle" style="font-size:7.5px;">侣</text>
<text class="s" x="572.5" y="283.5" text-anchor="middle" style="font-size:7.5px;">路</text>
<text class="s" x="260.5" y="383.6" text-anchor="middle" style="font-size:9.0px;stroke:#2a2422;stroke-width:0.25px;">尖峰山</text>
<path d="M281.4 377L284.6 383.4H278.2Z" fill="#2a2422"/>
<text class="s" x="271.7" y="349.5" text-anchor="middle" style="font-size:8.4px;">黄</text>
<text class="s" x="283.7" y="371.2" text-anchor="middle" style="font-size:8.4px;">杨</text>
<text class="s" x="295.2" y="387.7" text-anchor="middle" style="font-size:8.4px;">河</text>
<text class="t" x="131.0" y="372.1" text-anchor="middle" style="font-size:6.3px;">御温泉</text>
<text class="t" x="107.9" y="396.8" text-anchor="middle" style="font-size:6.3px;">乾务水库</text>
<text class="t" x="148.7" y="401.7" text-anchor="middle" style="font-size:6.3px;">万盛乡村俱乐部</text>
<text class="t" x="269.1" y="394.5" text-anchor="middle" style="font-size:6.1px;">区政府</text>
<text class="t" x="263.6" y="404.3" text-anchor="middle" style="font-size:6.4px;">遵义五院</text>
<text class="t" x="282.3" y="410.9" text-anchor="middle" style="font-size:5.9px;">中学</text>
<text class="t" x="323.3" y="397.6" text-anchor="middle" style="font-size:6.3px;">斗门酒吧城</text>
<text class="t" x="336.6" y="406.6" text-anchor="middle" style="font-size:6.3px;">白藤湖旅游城</text>
<text class="t" x="322.3" y="421.7" text-anchor="middle" style="font-size:6.3px;">鲷鱼岛</text>
<text class="t" x="233.6" y="445.8" text-anchor="middle" style="font-size:6.2px;letter-spacing:0.4px;" transform="rotate(-33.0 233.6 443.6)">香海路</text>
<text class="t" x="253.2" y="432.1" text-anchor="middle" style="font-size:4.8px;letter-spacing:0.5px;font-weight:normal;" transform="rotate(-31.0 253.2 430.4)">(规划中)</text>
<text class="t" x="331.0" y="491.3" text-anchor="middle" style="font-size:6.4px;letter-spacing:1.1px;" transform="rotate(-32.5 331.0 489.0)">港珠澳大桥连接线</text>
<text class="t" x="343.0" y="444.8" text-anchor="middle" style="font-size:5.8px;" transform="rotate(60.0 343.0 442.7)">湖</text>
<text class="t" x="346.7" y="451.6" text-anchor="middle" style="font-size:5.8px;" transform="rotate(60.0 346.7 449.5)">心</text>
<text class="t" x="350.5" y="458.6" text-anchor="middle" style="font-size:5.8px;" transform="rotate(60.0 350.5 456.5)">路</text>
<text class="t" x="369.2" y="554.8" text-anchor="middle" style="font-size:5.8px;" transform="rotate(-60.0 369.2 552.7)">珠</text>
<text class="t" x="374.2" y="547.3" text-anchor="middle" style="font-size:5.8px;" transform="rotate(-60.0 374.2 545.2)">乐</text>
<text class="t" x="379.2" y="538.6" text-anchor="middle" style="font-size:5.8px;" transform="rotate(-60.0 379.2 536.5)">路</text>
<circle cx="86.7" cy="513.5" r="1.5" fill="#2a2422"/>
<circle cx="181.7" cy="703.3" r="1.5" fill="#2a2422"/>
<circle cx="236.7" cy="711.2" r="1.5" fill="#2a2422"/>
<circle cx="376.2" cy="576.0" r="1.5" fill="#2a2422"/>
<circle cx="115.9" cy="369.8" r="2.0" fill="#2a2422"/>
<circle cx="116.4" cy="387.4" r="2.0" fill="#2a2422"/>
<circle cx="148.4" cy="391.9" r="2.0" fill="#2a2422"/>
<circle cx="283.2" cy="392.1" r="2.0" fill="#2a2422"/>
<circle cx="283.2" cy="401.7" r="2.0" fill="#2a2422"/>
<circle cx="271.1" cy="408.2" r="2.0" fill="#2a2422"/>
<circle cx="304.4" cy="395.0" r="2.0" fill="#2a2422"/>
<circle cx="313.4" cy="404.1" r="2.0" fill="#2a2422"/>
<circle cx="322.3" cy="412.3" r="2.0" fill="#2a2422"/>
<circle cx="535.2" cy="336.2" r="2.4" fill="#3b3735"/>
<circle cx="509.7" cy="471.2" r="4.5" fill="#4a4644"/>
<circle cx="105.4" cy="427.4" r="4.3" fill="#d7182d"/>
<circle cx="209.4" cy="659.9" r="4.4" fill="#d7182d"/>
<circle cx="546.2" cy="383.5" r="4.0" fill="#d7182d"/>
<circle class="circ" cx="131.0" cy="412.5" r="49.5"/>
<circle class="circ" cx="232.8" cy="667.2" r="49.5"/>
<circle class="circ" cx="502.7" cy="492.2" r="49.5"/>
<text class="r" x="381.4" y="368.6" text-anchor="middle" style="font-size:8.6px;" transform="rotate(-26.0 381.4 365.5)">香海大桥</text>
<text class="r" x="407.9" y="350.4" text-anchor="middle" style="font-size:4.6px;font-weight:normal;" transform="rotate(-26.0 407.9 348.7)">(建设中)</text>
<text class="r" x="398.3" y="395.1" text-anchor="middle" style="font-size:8.6px;" transform="rotate(-24.0 398.3 392.0)">珠海大桥</text>
<text class="r" x="424.8" y="428.9" text-anchor="middle" style="font-size:8.6px;" transform="rotate(-32.0 424.8 425.8)">洪鹤大桥</text>
<text class="r" x="450.2" y="411.6" text-anchor="middle" style="font-size:4.6px;font-weight:normal;" transform="rotate(-32.0 450.2 409.9)">(建设中)</text>
<text class="r" x="416.7" y="513.1" text-anchor="middle" style="font-size:8.6px;" transform="rotate(-28.0 416.7 510.0)">金海大桥</text>
<text class="r" x="444.2" y="498.0" text-anchor="middle" style="font-size:4.6px;font-weight:normal;" transform="rotate(-28.0 444.2 496.3)">(建设中)</text>
<text class="r" x="600.5" y="364.8" text-anchor="middle" style="font-size:8.7px;">港珠澳大桥</text>
<g transform="translate(577.4 306.2)"><circle r="6.5" fill="#f08519"/><g fill="none" stroke="#fff" stroke-width="1.1" stroke-linecap="round"><circle cy="-2.9" r="1"/><path d="M0-1.9V3.6M-2-0.6H2M-3.6 1.2C-3.2 3.4-1.4 3.8 0 3.8C1.4 3.8 3.2 3.4 3.6 1.2"/></g></g>
<g transform="translate(349.2 598.2)"><circle r="6.6" fill="#f08519"/><path d="M4.6 0C4.6 0.6 3.8 0.9 3 0.9H1L-1.4 4.2H-2.5L-1.2 0.9H-3L-3.9 2H-4.7L-4.2 0L-4.7-2H-3.9L-3-0.9H-1.2L-2.5-4.2H-1.4L1-0.9H3C3.8-0.9 4.6-0.6 4.6 0Z" fill="#fff"/></g>
<path d="M300.3 298.2H392a8 8 0 0 1 8 8V324.3a8 8 0 0 1-8 8H325.5L300 355.5L310 332.3H300.3a8 8 0 0 1-8-8V306.2a8 8 0 0 1 8-8Z" fill="#d01a2c"/>
<circle cx="298.3" cy="357" r="4.7" fill="#d01a2c"/>
<text class="" x="345.8" y="322.0" text-anchor="middle" style="font-size:19.4px;fill:#fff;font-weight:bold;">时代天韵</text>
</g>
<text x="569" y="726.5" style="font-size:12.6px;fill:#707070">此区域不以实际比例制作，仅供参考</text>
<circle cx="788.9" cy="711.4" r="13.3" fill="#5a5758"/>
<path d="M788.7 702.9L790.5 724.8H787.2Z" fill="#f6f6f6"/>
<text x="788.8" y="695.7" text-anchor="middle" style="font-size:10.2px;fill:#5a5758">N</text>
</svg>
</body>
</html>
